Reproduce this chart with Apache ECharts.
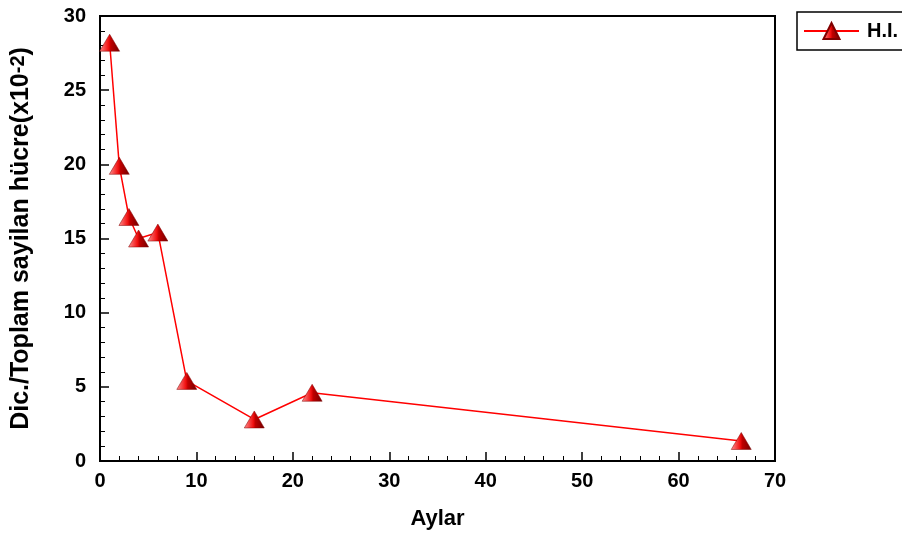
<!DOCTYPE html>
<html>
<head>
<meta charset="utf-8">
<script src="https://cdn.jsdelivr.net/npm/echarts@6/dist/echarts.min.js"></script>
<style>html,body{margin:0;padding:0;background:#fff}#c{width:902px;height:536px}</style>
</head>
<body>
<div id="c"></div>
<script>
var months = [1, 2, 3, 4, 6, 9, 16, 22, 66.5];
var hiValues = [28.2, 19.9, 16.45, 15.0, 15.4, 5.4, 2.8, 4.6, 1.35];
var seriesName = 'H.I.';
var xTicks = [0, 10, 20, 30, 40, 50, 60, 70];
var yTicks = [0, 5, 10, 15, 20, 25, 30];

var chart = echarts.init(document.getElementById('c'));
var font = '"Liberation Sans", Arial, sans-serif';
var markerColor = {
  type: 'linear', x: 0, y: 0, x2: 1, y2: 0,
  colorStops: [
    {offset: 0, color: '#ff9090'},
    {offset: 0.45, color: '#f01010'},
    {offset: 0.55, color: '#c00000'},
    {offset: 1, color: '#700000'}
  ]
};
chart.setOption({
  animation: false,
  grid: {left: 100, right: 127, top: 16, bottom: 75, show: true, borderColor: '#000', borderWidth: 2, containLabel: false},
  legend: {
    left: 797, top: 12, padding: [9, 12, 9, 6],
    borderColor: '#000', borderWidth: 1.5,
    itemWidth: 55, itemHeight: 20,
    textStyle: {fontFamily: font, fontWeight: 'bold', fontSize: 20, color: '#000', padding: [0, 0, 0, 3]},
    data: [seriesName]
  },
  xAxis: {
    type: 'value', min: xTicks[0], max: xTicks[xTicks.length - 1], interval: 10,
    name: 'Aylar', nameLocation: 'middle', nameGap: 47,
    nameTextStyle: {fontFamily: font, fontWeight: 'bold', fontSize: 22, color: '#000'},
    axisLine: {show: true, lineStyle: {color: '#000', width: 2}},
    axisTick: {show: true, inside: true, length: 9, lineStyle: {color: '#000', width: 1.5}},
    minorTick: {show: true, splitNumber: 5, length: 5, lineStyle: {color: '#000', width: 1}},
    axisLabel: {fontFamily: font, fontWeight: 'bold', fontSize: 20, color: '#000', margin: 10},
    splitLine: {show: false}
  },
  yAxis: {
    type: 'value', min: yTicks[0], max: yTicks[yTicks.length - 1], interval: 5,
    name: '{n|Dic./Toplam sayilan hücre(x10}{s|-2}{n|)}', nameLocation: 'middle', nameGap: 66, nameRotate: 90,
    nameTextStyle: {
      fontFamily: font, fontWeight: 'bold', fontSize: 25, color: '#000',
      rich: {
        n: {fontFamily: font, fontWeight: 'bold', fontSize: 25, color: '#000', verticalAlign: 'bottom'},
        s: {fontFamily: font, fontWeight: 'bold', fontSize: 20, color: '#000', verticalAlign: 'top', padding: [0, 0, 6, 0]}
      }
    },
    axisLine: {show: true, lineStyle: {color: '#000', width: 2}},
    axisTick: {show: true, inside: true, length: 9, lineStyle: {color: '#000', width: 1.5}},
    minorTick: {show: true, splitNumber: 5, length: 5, lineStyle: {color: '#000', width: 1}},
    axisLabel: {fontFamily: font, fontWeight: 'bold', fontSize: 20, color: '#000', margin: 14},
    splitLine: {show: false}
  },
  series: [{
    name: seriesName, type: 'line',
    data: months.map(function (m, i) { return [m, hiValues[i]]; }),
    symbol: 'triangle', symbolSize: [20, 17],
    lineStyle: {color: '#ff0000', width: 1.5},
    itemStyle: {color: markerColor, borderColor: '#800000', borderWidth: 0.5},
    emphasis: {disabled: true}
  }]
});
</script>
</body>
</html>
